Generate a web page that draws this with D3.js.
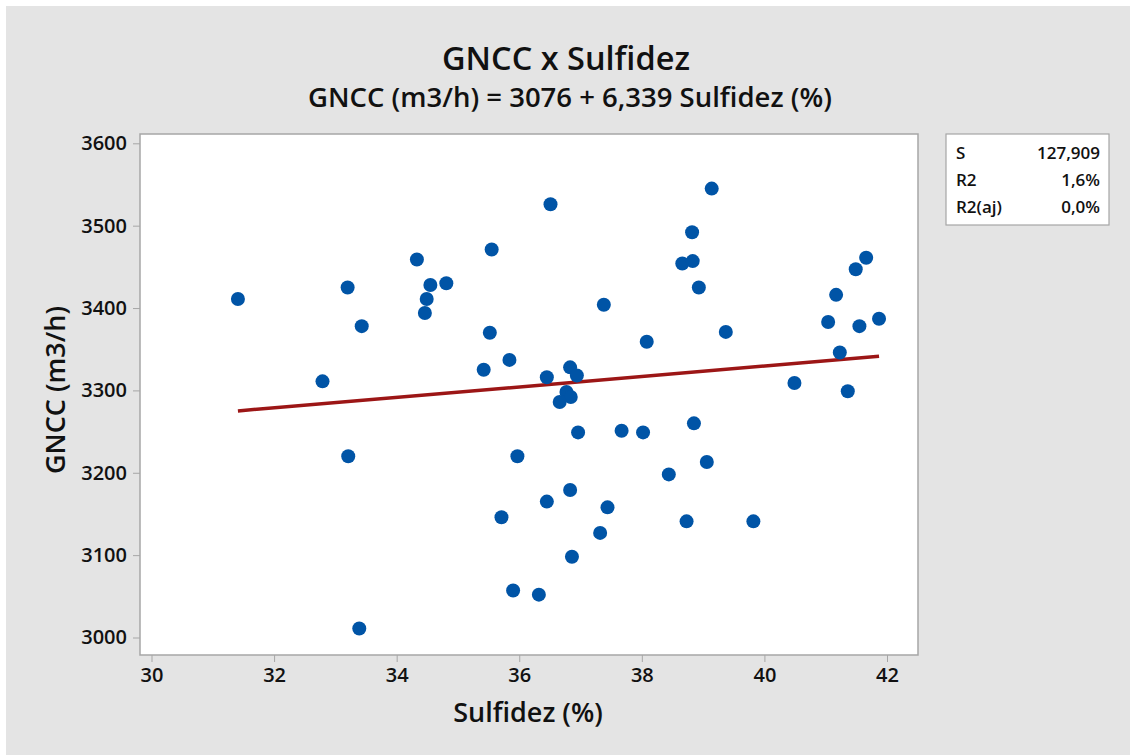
<!DOCTYPE html>
<html lang="pt">
<head>
<meta charset="UTF-8">
<title>GNCC x Sulfidez</title>
<script src="https://d3js.org/d3.v7.min.js"></script>
<style>
  body { margin: 0; background: #fff; }
  text { font-family: "Open Sans", "Noto Sans", sans-serif; fill: #111; }
</style>
</head>
<body>
<script>
// data
var sulfidez = [31.41, 33.20, 33.43, 34.33, 34.55, 34.81, 34.49, 34.46, 35.55, 35.52, 35.84, 35.42, 32.79,
    36.51, 39.14, 38.82, 38.66, 38.83, 38.93, 37.38, 41.17, 41.49, 41.66, 41.04, 41.55, 41.87, 39.37,
    38.08, 41.23, 36.45, 36.83, 36.94, 40.49, 41.36, 36.77, 36.84, 36.66,
    36.96, 37.67, 38.02, 38.85, 35.97, 39.06, 38.44, 36.83, 36.45, 37.44, 38.73, 39.82, 37.32, 36.86, 36.32,
    33.21, 35.71, 35.90, 33.39];
var gncc = [3411, 3425, 3378, 3459, 3428, 3430, 3411, 3394, 3471, 3370, 3337, 3325, 3311,
    3526, 3545, 3492, 3454, 3457, 3425, 3404, 3416, 3447, 3461, 3383, 3378, 3387, 3371,
    3359, 3346, 3316, 3328, 3318, 3309, 3299, 3298, 3292, 3286,
    3249, 3251, 3249, 3260, 3220, 3213, 3198, 3179, 3165, 3158, 3141, 3141, 3127, 3098, 3052,
    3220, 3146, 3057, 3011];
var intercept = 3076, slope = 6.339;
var xTicks = [30, 32, 34, 36, 38, 40, 42];
var yTicks = [3000, 3100, 3200, 3300, 3400, 3500, 3600];
var statLabels = ["S", "R2", "R2(aj)"];
var statValues = ["127,909", "1,6%", "0,0%"];

var W = 1130, H = 755;
var plot = {left: 140, top: 134, right: 918, bottom: 655};

var svg = d3.select("body").append("svg")
    .attr("width", W)
    .attr("height", H);

// background
svg.append("rect").attr("x", 0).attr("y", 0).attr("width", W).attr("height", H).attr("fill", "#fff");
svg.append("rect").attr("x", 6).attr("y", 6).attr("width", W - 6).attr("height", H - 6).attr("fill", "#e4e4e4");
svg.append("rect")
    .attr("x", plot.left).attr("y", plot.top)
    .attr("width", plot.right - plot.left).attr("height", plot.bottom - plot.top)
    .attr("fill", "#fff").attr("stroke", "#a6a6a6").attr("stroke-width", 1.5);

var x = d3.scaleLinear().domain([30, 42]).range([151.5, 887]);
var y = d3.scaleLinear().domain([3000, 3600]).range([637.5, 143.3]);

// axes
var xAxis = svg.append("g")
    .attr("transform", "translate(0," + plot.bottom + ")")
    .call(d3.axisBottom(x).tickValues(xTicks).tickSize(7).tickSizeOuter(0).tickFormat(d3.format("d")));
var yAxis = svg.append("g")
    .attr("transform", "translate(" + plot.left + ",0)")
    .call(d3.axisLeft(y).tickValues(yTicks).tickSize(7).tickSizeOuter(0).tickFormat(d3.format("d")));
[xAxis, yAxis].forEach(function(g) {
    g.select(".domain").remove();
    g.selectAll(".tick line").attr("stroke", "#a6a6a6");
    g.selectAll(".tick text")
        .style("font-family", "'Open Sans', sans-serif")
        .style("font-size", "20px")
        .style("font-weight", "600")
        .attr("fill", "#111");
});
xAxis.selectAll(".tick text").attr("y", 27).attr("dy", 0);
yAxis.selectAll(".tick text").attr("x", -13);

// fit line
var xs = [d3.min(sulfidez), d3.max(sulfidez)];
svg.append("path")
    .datum(xs)
    .attr("fill", "none")
    .attr("stroke", "#9c1616")
    .attr("stroke-width", 3.5)
    .attr("d", d3.line().x(function(d) { return x(d); }).y(function(d) { return y(intercept + slope * d); }));

// points
svg.selectAll("circle.pt")
    .data(sulfidez)
    .enter()
    .append("circle")
    .attr("class", "pt")
    .attr("cx", function(d) { return x(d); })
    .attr("cy", function(d, i) { return y(gncc[i]); })
    .attr("r", 7)
    .attr("fill", "#0054a6");

// titles
svg.append("text")
    .attr("x", 566).attr("y", 70)
    .attr("text-anchor", "middle")
    .style("font-size", "32.5px").style("font-weight", "600")
    .text("GNCC x Sulfidez");
svg.append("text")
    .attr("x", 570).attr("y", 107)
    .attr("text-anchor", "middle")
    .style("font-size", "27.5px").style("font-weight", "600")
    .text("GNCC (m3/h) = 3076 + 6,339 Sulfidez (%)");

// axis labels
svg.append("text")
    .attr("x", 528).attr("y", 722)
    .attr("text-anchor", "middle")
    .style("font-size", "27px").style("font-weight", "600")
    .text("Sulfidez (%)");
svg.append("text")
    .attr("transform", "translate(65,390) rotate(-90)")
    .attr("text-anchor", "middle")
    .style("font-size", "27px").style("font-weight", "600")
    .text("GNCC (m3/h)");

// stats box
svg.append("rect")
    .attr("x", 946).attr("y", 134).attr("width", 163).attr("height", 91)
    .attr("fill", "#fff").attr("stroke", "#a6a6a6").attr("stroke-width", 1.2);
statLabels.forEach(function(s, i) {
    svg.append("text")
        .attr("x", 956).attr("y", 159 + i * 27)
        .style("font-size", "17px").style("font-weight", "600")
        .text(s);
    svg.append("text")
        .attr("x", 1100).attr("y", 159 + i * 27)
        .attr("text-anchor", "end")
        .style("font-size", "17px").style("font-weight", "600")
        .text(statValues[i]);
});
</script>
</body>
</html>
